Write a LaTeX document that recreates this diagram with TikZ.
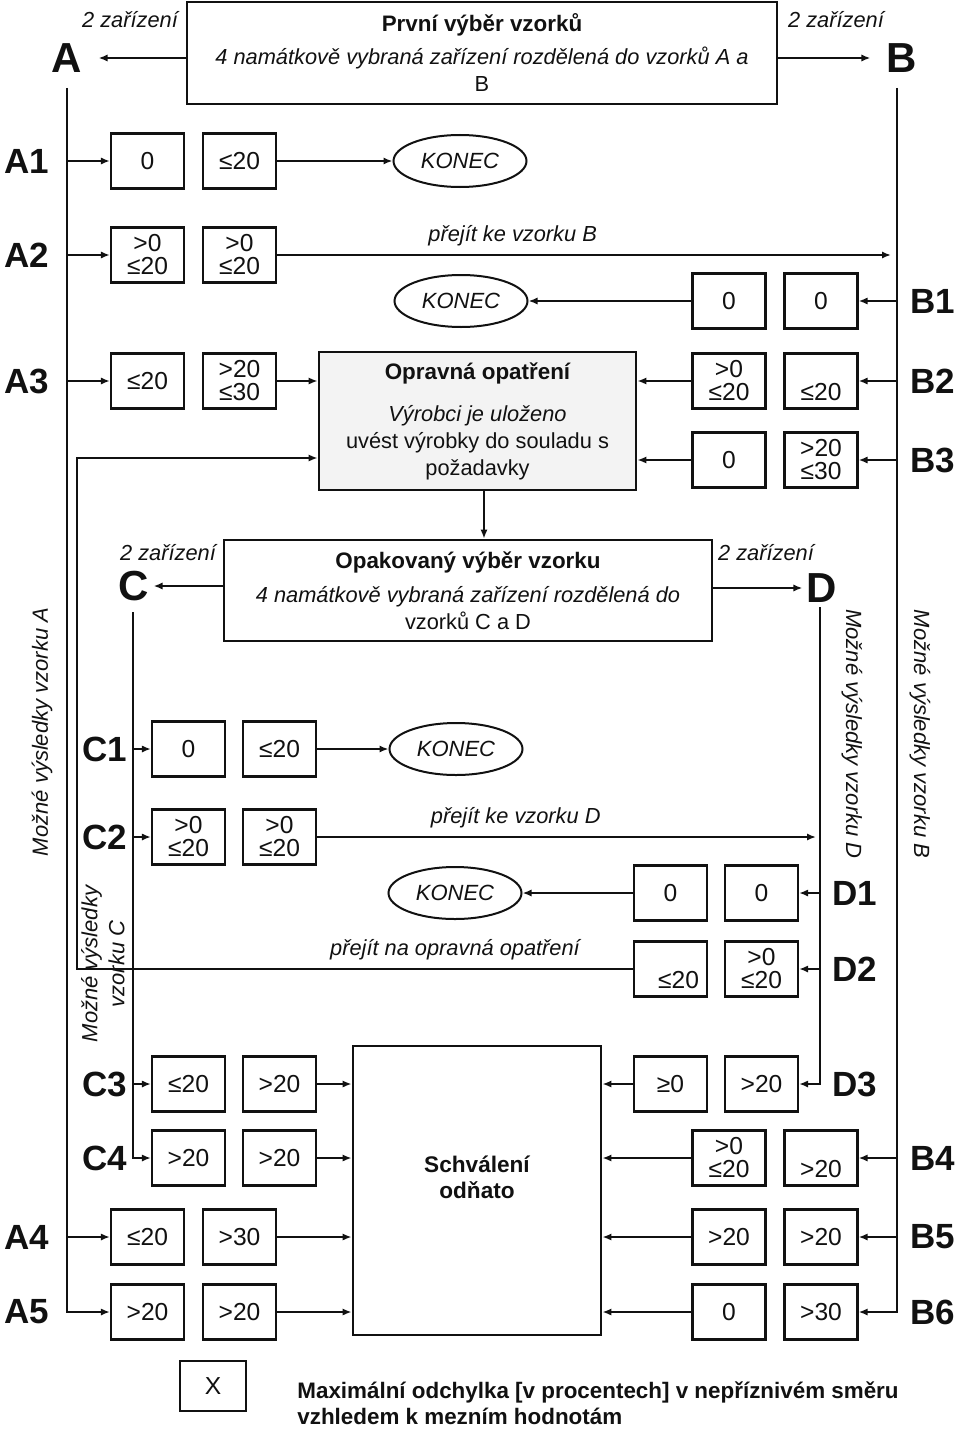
\documentclass[tikz,border=0pt]{standalone}
\usepackage{fontspec}
\setsansfont{Liberation Sans}
\usetikzlibrary{arrows.meta,positioning,shapes.geometric}
\definecolor{vzInk}{HTML}{111111}
\definecolor{vzShade}{HTML}{F3F3F3}
\tikzset{
  every picture/.style={font=\sffamily, text=vzInk},
  vz box/.style={draw=vzInk, line width=1.4pt, fill=white, align=center,
    inner sep=0pt, font=\sffamily\fontsize{10.9}{13.5}\selectfont},
  vz val/.style={draw=vzInk, line width=1.1pt, fill=white, align=center,
    minimum width=36.5pt, minimum height=27.5pt, inner sep=1pt,
    font=\sffamily\fontsize{12.3}{11.5}\selectfont},
  vz end/.style={draw=vzInk, line width=1pt, ellipse, inner sep=0pt,
    minimum width=66.5pt, minimum height=26pt,
    font=\sffamily\itshape\fontsize{11}{12}\selectfont},
  vz row/.style={inner sep=0pt, font=\sffamily\bfseries\fontsize{17.5}{17.5}\selectfont},
  vz letter/.style={inner sep=0pt, font=\sffamily\bfseries\fontsize{21}{21}\selectfont},
  vz note/.style={inner sep=1pt, font=\sffamily\itshape\fontsize{10.9}{12}\selectfont},
  vz side/.style={inner sep=0pt, align=center,
    font=\sffamily\itshape\fontsize{11}{13.5}\selectfont},
  vz line/.style={draw=vzInk, line width=0.9pt},
  vz arrow/.style={vz line, -{Latex[length=4.5pt,width=3.6pt]}}
}
\newcommand{\vztitle}[1]{{\bfseries\fontsize{11.2}{13.5}\selectfont #1}}

\begin{document}
\begin{tikzpicture}[x=0.5pt,y=-0.5pt]
  \useasboundingbox (0,0) rectangle (960,1429);

  % first sampling
  \node[vz box, minimum width=295pt, minimum height=51pt] (first) at (482,53)
    {\vztitle{První výběr vzorků}\\[3pt]\itshape 4 namátkově vybraná zařízení rozdělená do vzorků A a\\B};
  \node[vz letter] (A) at (67,58) {A};
  \node[vz letter] (B) at (902,58) {B};
  \node[vz note] (zarA) at (130,20) {2 zařízení};
  \node[vz note] (zarB) at (836,20) {2 zařízení};
  \draw[vz arrow, shorten >=8pt] (first.west |- A.east) -- (A.east);
  \draw[vz arrow, shorten >=8pt] (first.east |- B.west) -- (B.west);
  \coordinate (railA) at (67,88);
  \coordinate (railB) at (897,88);

  % sample A results
  \foreach \n/\y/\a/\b in {A1/161/0/≤20, A2/255/{>0\\≤20}/{>0\\≤20},
      A3/381/≤20/{>20\\≤30}, A4/1237/≤20/>30, A5/1312/>20/>20} {
    \node[vz row] (\n-lab) at (27,\y) {\n};
    \node[vz val] (\n-l) at (147.5,\y) {\a};
    \node[vz val] (\n-r) at (239.5,\y) {\b};
  }
  % sample B results
  \foreach \n/\y/\a/\b in {B1/301/0/0, B2/381/{>0\\≤20}/{\phantom{0}\\≤20},
      B3/460/0/{>20\\≤30}, B4/1158/{>0\\≤20}/{\phantom{0}\\>20}, B5/1237/>20/>20,
      B6/1312/0/>30} {
    \node[vz row] (\n-lab) at (933,\y) {\n};
    \node[vz val] (\n-l) at (729,\y) {\a};
    \node[vz val] (\n-r) at (821,\y) {\b};
  }

  \draw[vz arrow] (railA) |- (A5-l.west);
  \foreach \n in {A1,A2,A3,A4}
    \draw[vz arrow] (railA |- \n-l.west) -- (\n-l.west);
  \draw[vz arrow] (railB) |- (B6-r.east);
  \foreach \n in {B1,B2,B3,B4,B5}
    \draw[vz arrow] (railB |- \n-r.east) -- (\n-r.east);

  \node[vz end] (konec1) at (460,161) {KONEC};
  \node[vz end] (konec2) at (461,301) {KONEC};
  \draw[vz arrow] (A1-r.east) -- (konec1.west);
  \draw[vz arrow] (B1-l.west) -- (konec2.east);
  \draw[vz arrow, shorten >=3pt] (A2-r.east) -- (railB |- A2-r.east)
    node[vz note, pos=0.38, above=3pt] {přejít ke vzorku B};

  % corrective action
  \node[vz box, fill=vzShade, minimum width=158.5pt, minimum height=69pt] (opr) at (477.5,421)
    {\vztitle{Opravná opatření}\\[7.5pt]\itshape Výrobci je uloženo\\uvést výrobky do souladu s\\požadavky};
  \draw[vz arrow] (A3-r.east) -- (opr.west |- A3-r.east);
  \draw[vz arrow] (B2-l.west) -- (opr.east |- B2-l.west);
  \draw[vz arrow] (B3-l.west) -- (opr.east |- B3-l.west);

  % repeated sampling
  \node[vz box, minimum width=244pt, minimum height=50.5pt] (rep) at (468,590.5)
    {\vztitle{Opakovaný výběr vzorku}\\[3.5pt]\itshape 4 namátkově vybraná zařízení rozdělená do\\vzorků C a D};
  \draw[vz arrow] ([xshift=3.25pt]opr.south) -- ([xshift=3.25pt]opr.south |- rep.north);
  \node[vz letter] (C) at (134,586) {C};
  \node[vz letter] (D) at (822,588) {D};
  \node[vz note] (zarC) at (168,553) {2 zařízení};
  \node[vz note] (zarD) at (766,553) {2 zařízení};
  \draw[vz arrow, shorten >=2pt] (rep.west |- C.east) -- (C.east);
  \draw[vz arrow, shorten >=2pt] (rep.east |- D.west) -- (D.west);
  \coordinate (railC) at (133,612);
  \coordinate (railD) at (820,607);

  % sample C and D results
  \foreach \n/\y/\a/\b in {C1/749/0/≤20, C2/837/{>0\\≤20}/{>0\\≤20},
      C3/1084/≤20/>20, C4/1158/>20/>20} {
    \node[vz row] (\n-lab) at (105,\y) {\n};
    \node[vz val] (\n-l) at (188.5,\y) {\a};
    \node[vz val] (\n-r) at (279.5,\y) {\b};
  }
  \foreach \n/\y/\a/\b in {D1/893/0/0, D2/969/{\phantom{0}\\\hspace*{8pt}≤20}/{>0\\≤20},
      D3/1084/≥0/>20} {
    \node[vz row] (\n-lab) at (855,\y) {\n};
    \node[vz val] (\n-l) at (670.5,\y) {\a};
    \node[vz val] (\n-r) at (761.5,\y) {\b};
  }
  \draw[vz arrow] (railC) |- (C4-l.west);
  \foreach \n in {C1,C2,C3}
    \draw[vz arrow] (railC |- \n-l.west) -- (\n-l.west);
  \draw[vz arrow] (railD) |- (D3-r.east);
  \foreach \n in {D1,D2}
    \draw[vz arrow] (railD |- \n-r.east) -- (\n-r.east);

  \node[vz end] (konec3) at (456,749) {KONEC};
  \node[vz end] (konec4) at (455,893) {KONEC};
  \draw[vz arrow] (C1-r.east) -- (konec3.west);
  \draw[vz arrow] (D1-l.west) -- (konec4.east);
  \draw[vz arrow, shorten >=2pt] (C2-r.east) -- (railD |- C2-r.east)
    node[vz note, pos=0.395, above=3pt] {přejít ke vzorku D};
  \coordinate (back) at (77,969);
  \draw[vz arrow] (D2-l.west) -- (back) node[vz note, pos=0.32, above=3pt] {přejít na opravná opatření}
    |- ([yshift=-18.5pt]opr.west);

  % withdrawal
  \node[vz box, font=\sffamily\bfseries\fontsize{11.3}{13}\selectfont,
    minimum width=124pt, minimum height=144.5pt] (schv) at (477,1190.5)
    {Schválení\\odňato\\\mbox{}};
  \foreach \n in {C3,C4,A4,A5}
    \draw[vz arrow] (\n-r.east) -- (schv.west |- \n-r.east);
  \foreach \n in {D3,B4,B5,B6}
    \draw[vz arrow] (\n-l.west) -- (schv.east |- \n-l.west);

  % side captions
  \node[vz side, rotate=90] (capA) at (42,732) {Možné výsledky vzorku A};
  \node[vz side, rotate=-90] (capB) at (920,734) {Možné výsledky vzorku B};
  \node[vz side, rotate=-90] (capD) at (852,734) {Možné výsledky vzorku D};
  \node[vz side, rotate=90] (capC) at (103,964) {Možné výsledky\\vzorku C};

  % legend
  \node[vz val, minimum width=33pt, minimum height=25pt] (key) at (213,1386) {X};
  \node[anchor=west, align=left, inner sep=0pt,
    font=\sffamily\bfseries\fontsize{11.2}{13}\selectfont] (keytext) at (297,1403)
    {Maximální odchylka [v procentech] v nepříznivém směru\\vzhledem k mezním hodnotám};
\end{tikzpicture}
\end{document}
